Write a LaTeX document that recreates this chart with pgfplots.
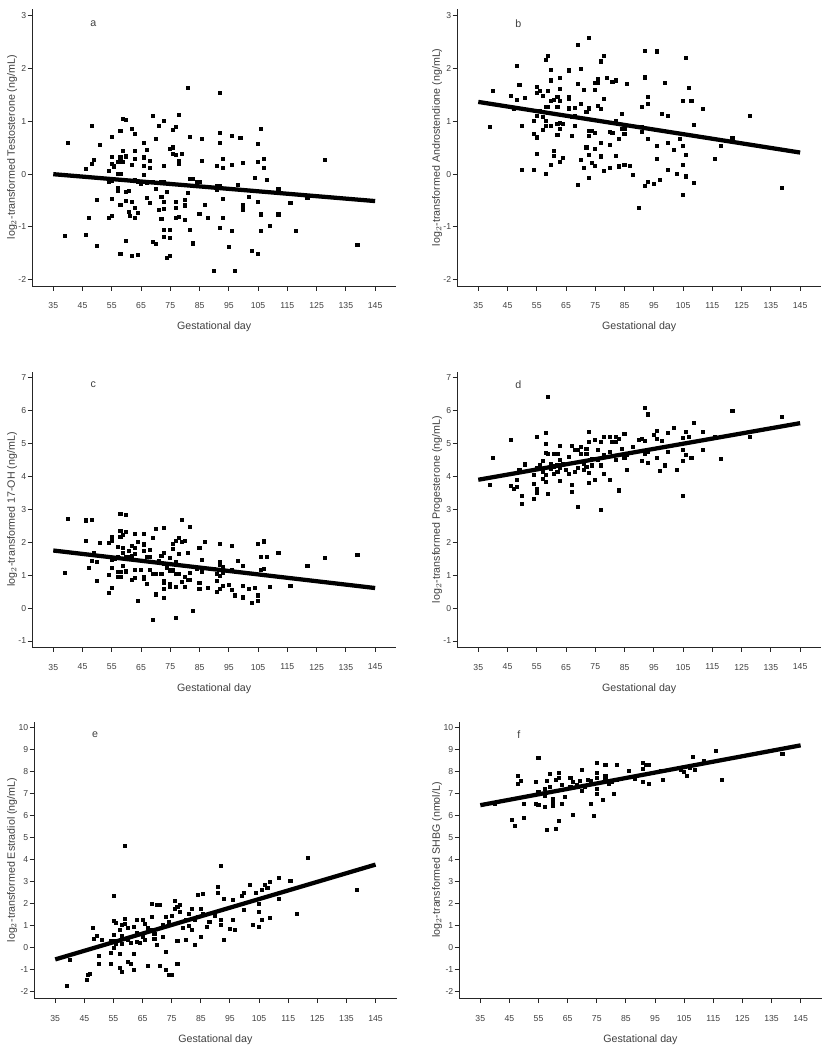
\documentclass[border=0pt]{standalone}
\usepackage{pgfplots}
\pgfplotsset{compat=1.18}
\usepackage{fontspec}
\setmainfont{Liberation Sans}
\definecolor{txt}{gray}{0.25}
\definecolor{axc}{gray}{0.15}
\pgfplotsset{
 panel/.style={scale only axis, anchor=north west, clip=false,
  axis x line=bottom, axis y line=left,
  axis line style={-, line width=0.75pt, axc},
  tick style={axc, line width=0.7pt}, tick align=outside, major tick length=3.5pt,
  xmin=27.8, xmax=152.2, xtick={35,45,...,145},
  ticklabel style={font=\fontsize{6.5}{7}\selectfont, text=txt},
  xticklabel style={yshift=-5.5pt},
  yticklabel style={xshift=2.5pt},
  /pgf/number format/assume math mode=true,
  xlabel={Gestational day},
  label style={font=\fontsize{8}{9}\selectfont, text=txt},
  xlabel style={at={(axis description cs:0.5,0)}, anchor=center, yshift=-30.75pt},
 },
 pts/.style={only marks, mark=square*, mark size=1.15pt, black},
 fit/.style={line width=3.2pt, black, no marks},
}
\begin{document}
\begin{tikzpicture}
\useasboundingbox (0,0) rectangle (621pt,-787.5pt);
% ---------------- a
\begin{axis}[panel, at={(24.15pt,-6.4pt)}, width=273pt, height=208.1pt,
 ymin=-2.12, ymax=3.14, ytick={-2,...,3},
 ylabel={log$_2$-transformed Testosterone (ng/mL)},
 ylabel style={at={(axis description cs:-0.055,0.5)}, anchor=center}]
\addplot[pts] coordinates {
(40.1,0.60) (39,-1.17) (46,0.10) (46,-1.14) (47.1,-0.82) (48,0.92) (48.2,0.20) (49,0.28) (49.9,-0.48) (49.9,-1.36)
(51,0.56) (53.9,0.06) (53.9,-0.15) (53.9,-0.82) (54.9,0.71) (54.9,0.33) (54.9,0.20) (54.9,-0.47) (54.9,-0.78) (55.8,0.15)
(54.9,-0.12) (56.9,0.23) (56.9,0.0) (56.9,-0.26) (56.9,-0.31) (57.9,0.83) (57.9,0.32) (57.9,0.23) (57.9,0.01) (57.9,-0.58)
(57.9,-1.51) (58.9,1.05) (58.9,0.45) (58.9,0.23) (59.8,1.03) (59.8,0.34) (59.8,-0.34) (59.8,-0.50) (59.8,-1.27) (60.9,-0.31)
(60.9,-0.72) (61,-0.78) (61.9,0.86) (61.9,0.17) (61.9,-0.53) (61.9,-1.54) (62.9,0.76) (62.9,0.45) (62.9,0.29) (62.9,-0.11)
(62.9,-0.63) (62.9,-0.82) (63.9,-0.15) (63.9,-0.73) (63.9,-1.53) (64.8,-0.18) (65.9,0.59) (65.9,0.32) (65.9,0.16) (65.9,-0.01)
(66.9,0.46) (66.9,-0.17) (66.9,-0.44) (67.9,0.26) (67.9,0.12) (67.9,-0.54) (68.9,1.10) (68.9,-0.14) (68.9,-1.29) (69.9,0.67)
(69.9,-0.28) (69.9,-1.32) (70.9,0.91) (70.9,-0.68) (71.9,-0.14) (71.9,-0.42) (71.9,-0.85) (72.8,1.01) (72.8,0.16) (72.8,-0.15)
(72.8,-0.53) (72.8,-0.66) (72.8,-1.05) (72.8,-1.18) (73.8,-0.34) (73.8,-1.59) (74.9,0.48) (74.9,-1.05) (74.9,-1.21) (74.9,-1.54)
(75.8,0.85) (75.8,0.51) (75.8,0.39) (76.8,0.90) (76.8,0.37) (76.8,-0.53) (76.8,-0.64) (76.8,-0.83) (77.8,1.12) (77.8,0.26)
(77.8,0.20) (77.8,-0.80) (78.8,0.39) (79.9,-0.48) (79.9,-0.59) (79.9,-0.86) (80.9,1.63) (80.9,-0.36) (81.8,0.71) (81.8,-0.09)
(81.8,-1.05) (82.8,-0.09) (82.8,-1.31) (83.9,-0.15) (84.9,-0.15) (84.9,-0.75) (85.9,0.67) (85.9,0.25) (86.8,-0.58) (87.8,-0.83)
(89.9,-1.83) (90.9,0.16) (90.9,-0.22) (90.9,-0.30) (91.8,1.55) (91.8,0.78) (91.8,0.59) (91.8,-0.22) (91.8,-1.01) (92.9,0.30)
(92.9,0.13) (92.9,-0.46) (92.9,-0.82) (94.9,-1.37) (95.9,0.73) (95.9,0.18) (95.9,-1.08) (96.9,-1.83) (97.9,-0.20) (98.9,0.69)
(99.9,0.21) (99.9,-0.59) (99.9,-0.68) (101.9,-0.42) (102.9,-1.46) (103.9,-0.06) (104.8,0.58) (104.8,0.23) (104.8,-0.52) (104.8,-1.51)
(105.8,0.86) (105.8,-0.76) (105.8,-1.07) (106.9,0.29) (106.9,0.12) (107.9,-0.11) (108.9,-0.98) (111.9,-0.28) (111.9,-0.76) (116,-0.55)
(117.9,-1.07) (121.8,-0.44) (127.8,0.27) (138.9,-1.33)
};
\addplot[fit] coordinates {(35,0) (145,-0.51)};
\node[font=\fontsize{8}{9}\selectfont, text=txt] at (axis cs:48.7,2.86) {a};
\end{axis}
% ---------------- b
\begin{axis}[panel, at={(342.9pt,-6.4pt)}, width=273pt, height=208.1pt,
 ymin=-2.12, ymax=3.14, ytick={-2,...,3},
 ylabel={log$_2$-transformed Androstendione (ng/mL)},
 ylabel style={at={(axis description cs:-0.055,0.5)}, anchor=center}]
\addplot[pts] coordinates {
(39,0.90) (40,1.59) (46,1.49) (47.1,1.24) (48,2.05) (48,1.41) (49,1.70) (50,0.91) (50,0.09) (50.9,1.44)
(54,1.01) (54,0.77) (54,0.08) (55,1.66) (55,1.54) (55,1.11) (55,0.70) (55,0.38) (56,1.59) (56,1.21)
(57,1.49) (57,1.18) (57,1.08) (57,0.84) (58,2.17) (58,1.27) (58,1.02) (58,0.92) (58,0.0) (58.9,2.25)
(58.9,1.58) (58.9,1.27) (59.9,1.98) (59.9,1.78) (59.9,1.40) (59.9,0.92) (59.9,0.18) (60.9,1.41) (60.9,0.44) (60.9,0.35)
(62,1.46) (62,1.28) (62,0.96) (62,0.75) (63,1.83) (63,1.62) (63,1.40) (63,0.97) (63,0.86) (63,0.24)
(63.9,0.96) (63.9,0.31) (65.9,1.97) (65.9,1.47) (65.9,1.43) (65.9,1.25) (67,1.08) (67,0.73) (67.9,1.26) (67.9,1.11)
(67.9,0.91) (68.9,2.46) (68.9,1.72) (68.9,-0.20) (69.9,2.0) (69.9,1.34) (69.9,0.27) (71,1.60) (71,0.12) (71.9,1.18)
(71.9,0.51) (72.9,2.58) (72.9,1.25) (72.9,0.83) (72.9,0.73) (72.9,0.37) (72.9,-0.07) (73.9,0.82) (73.9,0.21) (74.8,1.73)
(74.8,1.60) (74.8,0.78) (74.8,0.48) (74.8,0.16) (75.8,1.81) (75.8,1.73) (75.8,1.30) (76.9,2.14) (76.9,1.24) (76.9,0.59)
(76.9,0.34) (77.9,2.25) (77.9,1.43) (77.9,0.06) (78.9,1.83) (79.8,0.80) (79.8,0.56) (79.8,0.13) (80.8,1.75) (80.8,0.78)
(81.9,1.78) (81.9,1.02) (81.9,0.35) (82.9,0.67) (82.9,0.15) (83.9,1.15) (83.9,0.86) (84.9,0.86) (84.9,0.77) (84.9,0.18)
(85.9,1.72) (86.9,0.16) (87.9,-0.01) (89.9,-0.63) (90.9,1.28) (90.9,0.89) (90.9,0.80) (91.9,2.34) (91.9,1.85) (91.9,1.83)
(91.9,-0.22) (92.9,1.47) (92.9,1.34) (92.9,0.67) (92.9,-0.15) (94.9,-0.18) (95.9,2.33) (95.9,0.53) (95.9,0.29) (96.9,-0.10)
(97.8,1.15) (98.8,1.73) (99.8,1.10) (99.8,0.59) (99.8,0.08) (101.8,0.47) (102.8,0.01) (103.8,0.67) (104.9,1.39) (104.9,0.53)
(104.9,0.18) (104.9,-0.39) (105.9,2.21) (105.9,0.37) (105.9,-0.04) (106.8,1.64) (107.8,1.39) (108.8,0.94) (108.8,-0.17) (111.8,1.24)
(115.8,0.29) (117.8,0.53) (121.8,0.69) (127.7,1.11) (138.8,-0.25)
};
\addplot[fit] coordinates {(35,1.37) (145,0.41)};
\node[font=\fontsize{8}{9}\selectfont, text=txt] at (axis cs:48.7,2.86) {b};
\end{axis}
% ---------------- c
\begin{axis}[panel, at={(24.15pt,-278.85pt)}, width=273pt, height=206.6pt,
 ymin=-1.19, ymax=7.18, ytick={-1,...,7},
 ylabel={log$_2$-transformed 17-OH (ng/mL)},
 ylabel style={at={(axis description cs:-0.055,0.5)}, anchor=center}]
\addplot[pts] coordinates {
(39,1.07) (40.1,2.72) (46,2.67) (46,2.06) (47.1,1.22) (48,2.69) (48,1.43) (49,1.67) (49.9,1.40) (49.9,0.82)
(51,1.98) (53.9,1.98) (53.9,1.01) (53.9,0.46) (54.9,2.16) (54.9,2.04) (54.9,1.47) (54.9,1.23) (54.9,0.62) (56,1.50)
(56.9,1.86) (56.9,1.57) (56.9,1.10) (56.9,0.96) (57.9,2.87) (57.9,2.34) (57.9,2.16) (57.9,1.10) (57.9,0.94) (58.9,2.24)
(58.9,1.84) (58.9,1.67) (58.9,1.30) (59.8,2.85) (59.8,2.31) (59.8,1.57) (59.8,1.12) (60.9,1.73) (60.9,1.57) (61.9,1.88)
(61.9,1.60) (61.9,0.86) (62.9,2.26) (62.9,1.84) (62.9,1.65) (62.9,1.17) (62.9,0.92) (63.9,2.01) (63.9,0.21) (64.8,1.17)
(65.9,2.26) (65.9,1.94) (65.9,1.73) (65.9,0.96) (65.9,0.89) (66.9,1.55) (66.9,0.74) (67.9,1.76) (67.9,1.57) (67.9,1.17)
(68.9,2.14) (68.9,1.04) (68.9,-0.36) (69.9,2.41) (69.9,1.04) (69.9,0.42) (70.9,1.45) (71.9,1.60) (71.9,1.04) (72.8,2.45)
(72.8,1.67) (72.8,1.35) (72.8,0.84) (72.8,0.76) (72.8,0.59) (72.8,0.30) (73.8,1.23) (74.9,1.53) (74.9,1.15) (74.9,0.74)
(74.9,0.64) (75.8,1.96) (75.8,1.81) (75.8,1.15) (76.8,2.06) (76.8,1.40) (76.8,1.04) (76.8,0.66) (76.8,-0.29) (77.8,2.14)
(77.8,1.65) (77.8,1.04) (78.8,2.69) (78.8,2.01) (78.8,0.79) (79.9,2.06) (79.9,0.94) (79.9,0.66) (80.9,1.67) (80.9,0.86)
(81.8,2.47) (81.8,0.86) (81.8,1.07) (82.8,-0.09) (83.9,1.20) (84.9,1.84) (84.9,0.76) (84.9,0.59) (85.9,1.47) (85.9,1.10)
(86.8,2.01) (87.8,0.62) (89.9,1.20) (90.9,1.04) (90.9,0.84) (90.9,0.49) (91.8,1.96) (91.8,1.40) (91.8,1.33) (91.8,0.99)
(91.8,0.59) (92.9,1.25) (92.9,1.07) (92.9,0.69) (94.9,0.72) (95.9,1.88) (95.9,1.15) (95.9,0.56) (96.9,0.39) (97.9,1.43)
(99.9,1.30) (99.9,0.69) (99.9,0.33) (101.9,0.58) (102.9,0.15) (103.9,0.61) (104.8,1.96) (104.8,0.39) (104.8,0.23) (105.8,1.57)
(105.8,1.17) (106.9,2.03) (106.9,1.20) (107.9,1.57) (108.9,0.64) (111.9,1.69) (116,0.68) (121.8,1.30) (127.8,1.53) (138.9,1.63)
};
\addplot[fit] coordinates {(35,1.75) (145,0.61)};
\node[font=\fontsize{8}{9}\selectfont, text=txt] at (axis cs:48.7,6.8) {c};
\end{axis}
% ---------------- d
\begin{axis}[panel, at={(342.9pt,-278.85pt)}, width=273pt, height=206.6pt,
 ymin=-1.19, ymax=7.18, ytick={-1,...,7},
 ylabel={log$_2$-transformed Progesterone (ng/mL)},
 ylabel style={at={(axis description cs:-0.055,0.5)}, anchor=center}]
\addplot[pts] coordinates {
(39,3.75) (40,4.57) (46,5.12) (46,3.71) (47.1,3.63) (48,3.89) (48,3.70) (49,4.19) (50,3.42) (50,3.16)
(50.9,4.37) (54,4.04) (54,3.78) (54,3.31) (55,5.20) (55,4.27) (55,3.63) (55,3.50) (56,4.34) (57,4.47)
(57,4.14) (57,3.94) (58,5.33) (58,4.98) (58,4.72) (58,4.04) (58,3.83) (58.9,6.42) (58.9,4.70) (58.9,3.48)
(59.9,4.39) (59.9,4.24) (60.9,4.70) (60.9,4.31) (60.9,4.09) (62,4.70) (62,4.34) (62,4.14) (63,4.92) (63,4.51)
(63,4.27) (63,3.87) (63.9,4.39) (64.9,4.21) (65.9,4.60) (65.9,4.07) (67,4.92) (67,3.76) (67,3.53) (67.9,4.80)
(67.9,4.14) (68.9,4.82) (68.9,4.27) (68.9,3.09) (69.9,4.90) (69.9,4.70) (71,4.39) (71,4.21) (71.9,4.85) (71.9,4.70)
(71.9,4.29) (72.9,5.35) (72.9,5.05) (72.9,3.80) (72.9,4.11) (73.9,4.54) (73.9,4.34) (74.8,5.12) (74.8,4.54) (74.8,3.91)
(75.8,4.80) (75.8,4.51) (76.9,5.05) (76.9,4.34) (76.9,2.99) (77.9,5.22) (77.9,4.65) (77.9,4.09) (79.8,5.20) (79.8,4.75)
(79.8,3.91) (80.8,5.05) (81.9,5.20) (81.9,5.05) (81.9,4.51) (82.9,5.15) (82.9,3.58) (83.9,4.85) (84.9,5.31) (84.9,4.58)
(85.9,4.65) (85.9,4.21) (87.9,4.90) (89.9,5.12) (90.9,5.15) (90.9,4.47) (91.9,6.09) (91.9,5.08) (91.9,4.70) (92.9,5.89)
(92.9,4.75) (92.9,4.41) (94.9,5.26) (95.9,5.39) (95.9,5.15) (95.9,4.58) (96.9,4.16) (97.8,5.08) (98.8,4.34) (99.8,5.33)
(99.8,4.75) (101.8,5.49) (102.8,4.19) (104.9,5.18) (104.9,4.82) (104.9,4.49) (104.9,3.40) (105.9,5.36) (105.9,4.65) (106.8,5.20)
(107.8,4.58) (108.8,5.63) (111.8,5.36) (111.8,4.80) (115.8,5.20) (117.8,4.54) (121.8,6.00) (127.7,5.22) (138.8,5.81)
};
\addplot[fit] coordinates {(35,3.9) (145,5.62)};
\node[font=\fontsize{8}{9}\selectfont, text=txt] at (axis cs:48.7,6.8) {d};
\end{axis}
% ---------------- e
\begin{axis}[panel, at={(25.7pt,-541.35pt)}, width=271.7pt, height=207.4pt,
 ymin=-2.3, ymax=10.27, ytick={-2,...,10},
 ylabel={log$_2$-transformed Estradiol (ng/mL)},
 ylabel style={at={(axis description cs:-0.061,0.5)}, anchor=center}]
\addplot[pts] coordinates {
(39.1,-1.73) (40,-0.56) (45.9,-1.47) (46.1,-1.24) (46.9,-1.20) (47.9,0.89) (48.2,0.42) (49.2,0.53) (50.1,-0.36) (50.1,-0.74)
(51.1,0.38) (54,-0.21) (54,-0.74) (54,0.32) (55,2.36) (55,1.23) (55,0.58) (55,0.32) (55,0.0) (55.9,1.14)
(55.9,0.20) (57,0.80) (57,-0.26) (57,-0.89) (58,1.03) (58,0.53) (58,0.20) (58,-1.09) (58.9,4.65) (58.9,1.33)
(58.9,1.11) (58.9,0.42) (60,0.92) (60,0.38) (60,-0.64) (61,0.23) (61,-0.71) (61.9,0.95) (61.9,-0.26) (61.9,-1.02)
(62.9,1.29) (62.9,0.68) (62.9,0.27) (64,0.23) (65,1.29) (65,0.50) (65.9,1.11) (65.9,0.35) (66.9,0.92) (66.9,-0.83)
(68,1.41) (68,0.83) (68,2.02) (69,0.65) (69,0.42) (69.9,0.12) (69.9,1.94) (71,1.94) (71,-0.80) (72,0.50)
(72,1.03) (72.9,1.41) (72.9,-0.18) (72.9,-0.98) (73.9,-1.24) (73.9,1.18) (75,-1.24) (75,1.44) (75.9,2.12) (75.9,1.79)
(76.9,1.86) (76.9,0.32) (76.9,-0.71) (77.9,1.94) (77.9,1.64) (78.8,0.92) (79.9,1.26) (79.9,0.38) (80.9,1.53) (80.9,0.98)
(81.8,1.79) (81.8,0.80) (82.8,0.12) (82.8,1.26) (83.9,2.39) (83.9,1.41) (84.9,0.50) (84.9,1.79) (85.8,2.47) (85.8,1.53)
(86.9,0.95) (87.9,1.18) (89.8,1.44) (90.9,2.50) (90.9,2.77) (91.9,3.71) (91.9,1.29) (91.9,1.03) (92.8,2.24) (92.8,0.35)
(94.9,0.88) (95.9,2.20) (95.9,1.26) (96.8,0.80) (98.9,2.35) (99.9,2.50) (99.9,1.71) (101.9,2.85) (102.9,1.03) (103.9,2.52)
(104.8,1.64) (104.8,0.95) (104.8,2.02) (105.9,2.65) (105.9,1.29) (106.9,2.85) (107.8,2.74) (108.8,2.98) (108.8,1.38) (111.8,3.18)
(111.8,2.24) (115.7,3.05) (117.8,1.53) (121.8,4.09) (138.7,2.65)
};
\addplot[fit] coordinates {(35,-0.53) (145,3.78)};
\node[font=\fontsize{8}{9}\selectfont, text=txt] at (axis cs:48.7,9.67) {e};
\end{axis}
% ---------------- f
\begin{axis}[panel, at={(344.5pt,-541.35pt)}, width=271.7pt, height=207.4pt,
 ymin=-2.3, ymax=10.27, ytick={-2,...,10},
 ylabel={log$_2$-transformed SHBG (nmol/L)},
 ylabel style={at={(axis description cs:-0.061,0.5)}, anchor=center}]
\addplot[pts] coordinates {
(40,6.56) (45.9,5.83) (46.9,5.55) (47.9,7.80) (47.9,7.44) (48.9,7.59) (50,6.53) (50,5.92) (54,7.55) (54,6.56)
(54.9,8.64) (54.9,7.09) (54.9,6.48) (57,7.24) (57,6.89) (57,6.41) (57.9,7.59) (57.9,5.38) (58.9,7.89) (58.9,7.32)
(60,6.79) (60,6.64) (60,6.44) (61,7.65) (61,5.42) (61.9,7.95) (61.9,7.74) (61.9,5.77) (62.9,7.39) (62.9,6.56)
(64,6.86) (65.9,7.74) (65.9,7.32) (66.9,6.03) (66.9,7.55) (68,7.39) (69,7.59) (70,8.11) (70,7.14) (70.9,7.32)
(72,7.62) (72.9,7.59) (72.9,6.53) (73.9,6.02) (75,8.41) (75,7.95) (75,7.74) (75,7.24) (75,7.02) (77,6.74)
(77.9,8.30) (77.9,7.80) (77.9,7.65) (79,7.47) (80,7.55) (80.9,7.00) (81.9,8.30) (81.9,7.62) (85.9,8.05) (87.9,7.70)
(90.9,8.41) (90.9,8.14) (90.9,7.55) (91.9,8.30) (92.9,8.30) (92.9,7.47) (96.9,8.05) (97.8,7.65) (103.8,8.11) (104.8,8.00)
(105.9,7.83) (106.9,8.20) (107.8,8.68) (108.8,8.08) (111.8,8.48) (115.8,8.95) (117.8,7.65) (138.7,8.83)
};
\addplot[fit] coordinates {(35,6.48) (145,9.2)};
\node[font=\fontsize{8}{9}\selectfont, text=txt] at (axis cs:48.2,9.7) {f};
\end{axis}
\end{tikzpicture}
\end{document}
